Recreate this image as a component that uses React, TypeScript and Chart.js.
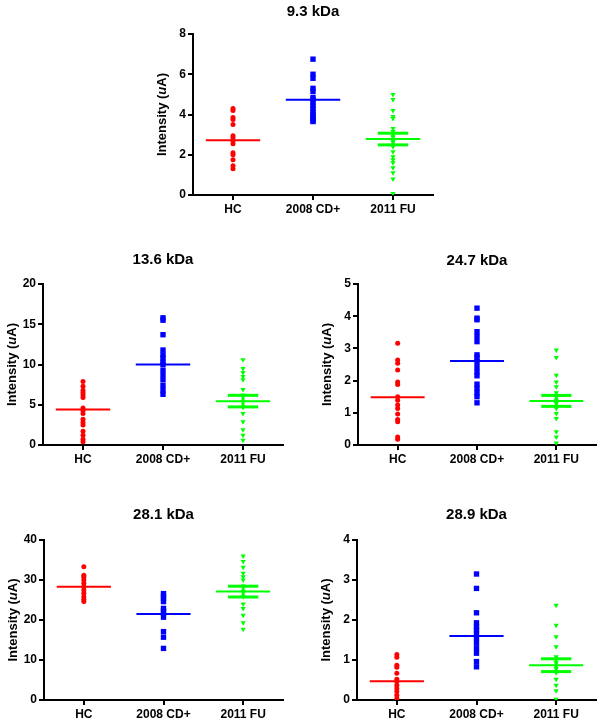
import React, { useEffect, useRef } from 'react';
import { Chart, registerables } from 'chart.js';
Chart.register(...registerables);

const groups = ['HC', '2008 CD+', '2011 FU'];

// 9.3 kDa
const hc93 = [4.3, 4.2, 3.85, 3.75, 3.5, 2.95, 2.85, 2.7, 2.55, 2.1, 2.0, 1.75, 1.45, 1.3];
const cd93 = [6.75, 6.0, 5.8, 5.3, 5.15, 4.85, 4.75, 4.6, 4.45, 4.3, 4.15, 4.0, 3.9, 3.8, 3.7, 3.65];
const fu93 = [5.0, 4.75, 4.2, 3.9, 3.8, 3.3, 3.15, 3.05, 2.9, 2.65, 2.4, 2.15, 1.9, 1.75, 1.6, 1.35, 1.1, 0.8, 0.08];
const mean93 = [2.72, 4.73, 2.78];
const semFu93 = 0.29;

// 13.6 kDa
const hc136 = [7.9, 7.3, 6.8, 6.5, 6.2, 5.9, 4.6, 4.3, 3.9, 3.2, 2.8, 2.5, 1.7, 1.2, 0.7, 0.4];
const cd136 = [15.8, 15.5, 13.7, 11.8, 11.2, 10.8, 10.3, 10.0, 9.3, 8.7, 8.1, 7.4, 6.8, 6.3];
const fu136 = [10.6, 9.5, 9.0, 8.5, 8.1, 6.9, 6.2, 5.4, 4.7, 3.9, 2.9, 1.9, 1.2, 0.6];
const mean136 = [4.4, 10.0, 5.45];
const semFu136 = 0.72;

// 24.7 kDa
const hc247 = [3.16, 2.64, 2.54, 2.33, 1.96, 1.88, 1.5, 1.39, 1.24, 1.13, 0.96, 0.79, 0.72, 0.25, 0.18];
const cd247 = [4.25, 3.94, 3.89, 3.52, 3.37, 3.21, 2.8, 2.72, 2.59, 2.43, 2.28, 2.15, 1.89, 1.76, 1.62, 1.5, 1.31];
const fu247 = [2.95, 2.72, 2.17, 1.96, 1.81, 1.62, 1.5, 1.39, 1.29, 1.13, 0.98, 0.82, 0.41, 0.25, 0.06];
const mean247 = [1.48, 2.61, 1.37];
const semFu247 = 0.17;

// 28.1 kDa
const hc281 = [33.3, 31.2, 30.7, 30.0, 29.2, 28.3, 27.5, 26.7, 25.8, 25.2, 24.6];
const cd281 = [26.6, 26.0, 25.4, 24.6, 22.9, 22.3, 21.7, 20.7, 17.1, 15.7, 12.9];
const fu281 = [36.0, 34.6, 33.2, 31.7, 30.8, 30.0, 28.5, 27.1, 25.8, 24.0, 22.9, 21.2, 19.3, 17.7];
const mean281 = [28.3, 21.5, 27.1];
const semFu281 = 1.35;

// 28.9 kDa
const hc289 = [1.14, 1.07, 0.87, 0.82, 0.67, 0.52, 0.46, 0.37, 0.29, 0.21, 0.12, 0.04];
const cd289 = [3.15, 2.79, 2.18, 1.93, 1.83, 1.75, 1.65, 1.54, 1.42, 1.29, 1.17, 0.96, 0.83];
const fu289 = [2.37, 1.87, 1.58, 1.33, 1.08, 0.93, 0.79, 0.68, 0.52, 0.37, 0.23, 0.02];
const mean289 = [0.47, 1.6, 0.87];
const semFu289 = 0.16;

const titles = ['9.3 kDa', '13.6 kDa', '24.7 kDa', '28.1 kDa', '28.9 kDa'];
const yMaxes = [8, 20, 5, 40, 4];
const ySteps = [2, 5, 1, 10, 1];

const panelData = [
  { series: [hc93, cd93, fu93], means: mean93, sem: semFu93 },
  { series: [hc136, cd136, fu136], means: mean136, sem: semFu136 },
  { series: [hc247, cd247, fu247], means: mean247, sem: semFu247 },
  { series: [hc281, cd281, fu281], means: mean281, sem: semFu281 },
  { series: [hc289, cd289, fu289], means: mean289, sem: semFu289 },
];

// layout (page pixel coordinates)
const boxes = [
  { left: 140, top: 0, width: 310, height: 222, aL: 193, aR: 433, aT: 34, aB: 195, titleY: 11.5 },
  { left: 0, top: 240, width: 300, height: 230, aL: 43, aR: 283, aT: 284, aB: 445, titleY: 260 },
  { left: 300, top: 240, width: 300, height: 230, aL: 358, aR: 598, aT: 284, aB: 445, titleY: 260.5 },
  { left: 0, top: 480, width: 300, height: 244, aL: 44, aR: 283, aT: 540, aB: 700, titleY: 515 },
  { left: 300, top: 480, width: 300, height: 244, aL: 357, aR: 597, aT: 540, aB: 700, titleY: 515 },
];

const colors = ['#ff0000', '#0000ff', '#00ff00'];
const FONT = "'Liberation Sans', Arial, Helvetica, sans-serif";

const yTitlePlugin = {
  id: 'yTitle',
  afterDraw(chart: any, _args: any, opts: any) {
    const { ctx, chartArea } = chart;
    const parts = [
      { text: 'Intensity (', italic: false },
      { text: 'u', italic: true },
      { text: 'A)', italic: false },
    ];
    const fontOf = (p: any) => `${p.italic ? 'italic ' : ''}bold 13px ${FONT}`;
    ctx.save();
    ctx.translate(chartArea.left - opts.offset, (chartArea.top + chartArea.bottom) / 2);
    ctx.rotate(-Math.PI / 2);
    let total = 0;
    const widths = parts.map((p) => {
      ctx.font = fontOf(p);
      const w = ctx.measureText(p.text).width;
      total += w;
      return w;
    });
    let cx = -total / 2;
    ctx.textBaseline = 'middle';
    ctx.textAlign = 'left';
    ctx.fillStyle = '#000';
    parts.forEach((p, i) => {
      ctx.font = fontOf(p);
      ctx.fillText(p.text, cx, 0);
      cx += widths[i];
    });
    ctx.restore();
  },
};

function Panel({ idx }: { idx: number }) {
  const ref = useRef<HTMLCanvasElement>(null);
  const b = boxes[idx];
  useEffect(() => {
    const d = panelData[idx];
    const datasets: any[] = [];
    const styles = [
      { pointStyle: 'circle', radius: 2.5, rotation: 0 },
      { pointStyle: 'rect', radius: 3.8, rotation: 0 },
      { pointStyle: 'triangle', radius: 3, rotation: 180 },
    ];
    d.series.forEach((vals, i) => {
      datasets.push({
        data: vals.map((v) => ({ x: i, y: v })),
        pointStyle: styles[i].pointStyle,
        pointRadius: styles[i].radius,
        pointRotation: styles[i].rotation,
        pointBackgroundColor: colors[i],
        pointBorderWidth: 0,
        borderColor: colors[i],
        backgroundColor: colors[i],
        showLine: false,
      });
    });
    const seg = (x0: number, y0: number, x1: number, y1: number, c: string, w: number) => ({
      data: [{ x: x0, y: y0 }, { x: x1, y: y1 }],
      showLine: true,
      borderColor: c,
      borderWidth: w,
      pointRadius: 0,
      borderCapStyle: 'butt',
    });
    d.means.forEach((m, i) => {
      datasets.push(seg(i - 0.34, m, i + 0.34, m, colors[i], 2));
    });
    const m = d.means[2];
    datasets.push(seg(2, m - d.sem, 2, m + d.sem, colors[2], 3));
    datasets.push(seg(2 - 0.19, m + d.sem, 2 + 0.19, m + d.sem, colors[2], 3));
    datasets.push(seg(2 - 0.19, m - d.sem, 2 + 0.19, m - d.sem, colors[2], 3));

    const titleLH = 18;
    const padTop = b.titleY - b.top - titleLH / 2;
    const padBottom = b.aT - b.titleY - titleLH / 2;
    const yW = b.aL - b.left;
    const xH = b.top + b.height - b.aB;
    const padRight = b.left + b.width - b.aR;

    const chart = new Chart(ref.current!, {
      type: 'scatter',
      data: { datasets },
      plugins: [yTitlePlugin],
      options: {
        animation: false,
        responsive: false,
        devicePixelRatio: 1,
        layout: { padding: { left: 0, right: padRight, top: 0, bottom: 0 } },
        font: { family: FONT },
        plugins: {
          legend: { display: false },
          tooltip: { enabled: false },
          title: {
            display: true,
            text: titles[idx],
            fullSize: false,
            color: '#000',
            font: { family: FONT, size: 15, weight: 'bold', lineHeight: 1.2 },
            padding: { top: padTop, bottom: padBottom },
          },
          yTitle: { offset: 30.5 },
        } as any,
        scales: {
          x: {
            type: 'linear',
            min: -0.5,
            max: 2.5,
            afterBuildTicks: (s: any) => {
              s.ticks = groups.map((_, i) => ({ value: i }));
            },
            afterFit: (s: any) => {
              s.height = xH;
            },
            ticks: {
              autoSkip: false,
              maxRotation: 0,
              padding: 2,
              color: '#000',
              font: { family: FONT, size: 12, weight: 'bold' },
              callback: (v: any) => groups[v],
            },
            grid: { drawOnChartArea: false, drawTicks: true, tickLength: 5, color: '#000', lineWidth: 2 },
            border: { display: true, color: '#000', width: 2 },
          },
          y: {
            type: 'linear',
            min: 0,
            max: yMaxes[idx],
            afterFit: (s: any) => {
              s.width = yW;
            },
            ticks: {
              stepSize: ySteps[idx],
              padding: 2,
              color: '#000',
              font: { family: FONT, size: 12, weight: 'bold' },
            },
            grid: { drawOnChartArea: false, drawTicks: true, tickLength: 5, color: '#000', lineWidth: 2 },
            border: { display: true, color: '#000', width: 2 },
          },
        },
      } as any,
    });
    return () => chart.destroy();
  }, []);
  return (
    <div style={{ position: 'absolute', left: b.left, top: b.top, width: b.width, height: b.height }}>
      <canvas ref={ref} width={b.width} height={b.height} style={{ display: 'block', width: b.width, height: b.height }} />
    </div>
  );
}

export default function App() {
  return (
    <div style={{ position: 'absolute', left: 0, top: 0, width: 600, height: 724, background: '#fff' }}>
      {titles.map((_, i) => (
        <Panel key={i} idx={i} />
      ))}
    </div>
  );
}
